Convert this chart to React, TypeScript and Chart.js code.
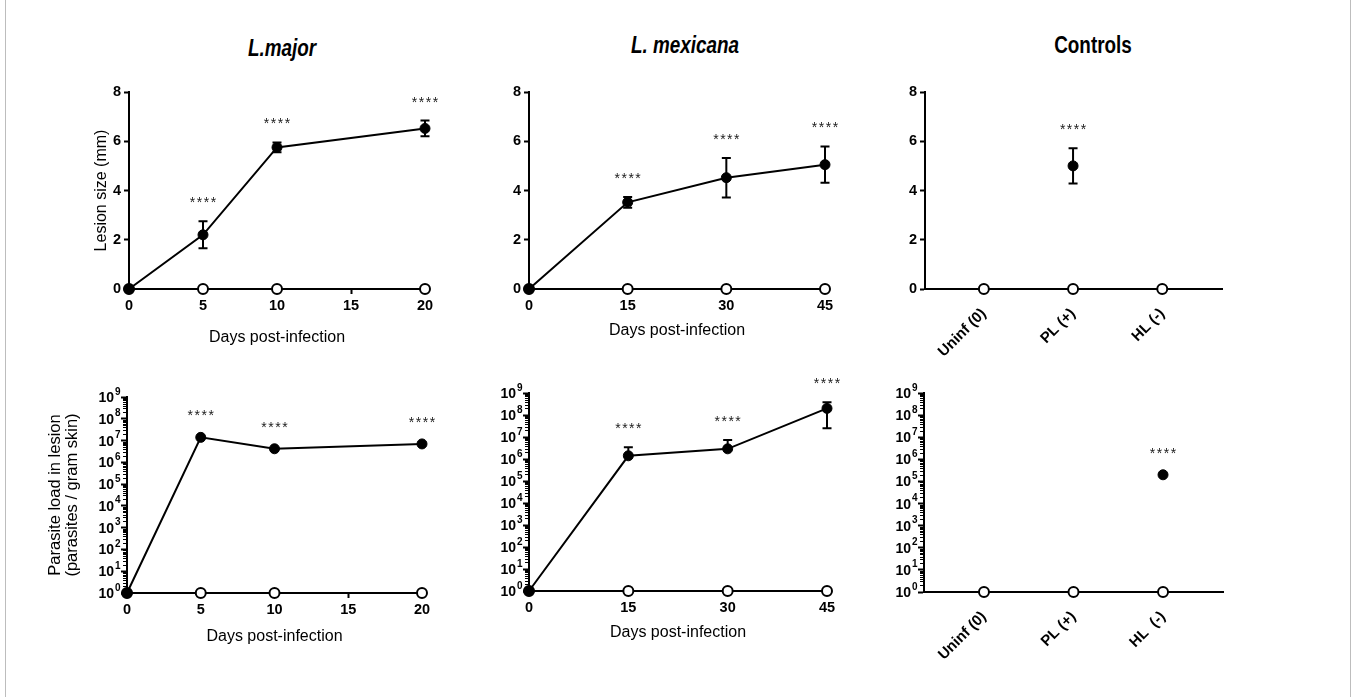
import React, { useEffect, useRef } from 'react';
import { Chart, registerables } from 'chart.js';

Chart.register(...registerables);

const FONT = '"Liberation Sans", Arial, Helvetica, sans-serif';
Chart.defaults.font.family = FONT;
Chart.defaults.color = '#000';

// ---------- data ----------
const MAJOR_DAYS = [0, 5, 10, 20];
const MAJOR_LESION = [0, 2.2, 5.75, 6.52];
const MAJOR_LESION_SEM = [null, 0.55, 0.2, 0.32];
const MAJOR_LESION_CTRL = [0, 0, 0, 0];
const MAJOR_SIG = [false, true, true, true];

const MEX_DAYS = [0, 15, 30, 45];
const MEX_LESION = [0, 3.52, 4.52, 5.05];
const MEX_LESION_SEM = [null, 0.22, 0.8, 0.74];
const MEX_LESION_CTRL = [0, 0, 0, 0];
const MEX_SIG = [false, true, true, true];

const CONTROL_GROUPS = ['Uninf (0)', 'PL (+)', 'HL (-)'];
const CONTROL_GROUPS_LOAD = ['Uninf (0)', 'PL (+)', 'HL  (-)'];
const CONTROL_LESION_OPEN = [0, 0, 0];
const CONTROL_LESION_FILLED = [null, 5.0, null];
const CONTROL_LESION_SEM = [null, 0.72, null];
const CONTROL_LESION_SIG = [false, true, false];

const MAJOR_LOAD = [1, 1.4e7, 4.2e6, 7.0e6];
const MAJOR_LOAD_CTRL = [1, 1, 1, 1];
const MAJOR_LOAD_SEM = [null, null, null, null];

const MEX_LOAD = [1, 1.4e6, 2.9e6, 2.0e8];
const MEX_LOAD_CTRL = [1, 1, 1, 1];
const MEX_LOAD_SEM = [null, 2.0e6, 4.4e6, 1.75e8];

const CONTROL_LOAD_OPEN = [1, 1, 1];
const CONTROL_LOAD_FILLED = [null, null, 2.0e5];
const CONTROL_LOAD_SEM = [null, null, null];
const CONTROL_LOAD_SIG = [false, false, true];

const LESION_TICKS = [0, 2, 4, 6, 8];
const LOG_EXPONENTS = [0, 1, 2, 3, 4, 5, 6, 7, 8, 9];
const LOG_BASE_LABEL = '10';

const PANEL_TITLES = ['L.major', 'L. mexicana', 'Controls'];

// ---------- plugin: error bars + significance stars ----------
const errStarPlugin = {
  id: 'errStars',
  afterDatasetsDraw(chart: any) {
    const ctx = chart.ctx;
    const yScale = chart.scales.y;
    const isLog = yScale.type === 'logarithmic';
    chart.data.datasets.forEach((ds: any, di: number) => {
      const meta = chart.getDatasetMeta(di);
      const sem = ds.sem || [];
      const sig = ds.sig || [];
      meta.data.forEach((pt: any, i: number) => {
        const raw = ds.data[i];
        const v = raw && typeof raw === 'object' ? raw.y : raw;
        if (v == null) return;
        let topPx = pt.y - 3;
        const e = sem[i];
        if (e) {
          const hiPx = yScale.getPixelForValue(v + e);
          const lo = v - e;
          const loPx = !isLog || lo > 0 ? yScale.getPixelForValue(lo) : null;
          ctx.save();
          ctx.strokeStyle = '#000';
          ctx.lineWidth = 2;
          ctx.beginPath();
          ctx.moveTo(pt.x, hiPx);
          ctx.lineTo(pt.x, loPx != null ? loPx : pt.y);
          ctx.moveTo(pt.x - 4.5, hiPx);
          ctx.lineTo(pt.x + 4.5, hiPx);
          if (loPx != null) {
            ctx.moveTo(pt.x - 4.5, loPx);
            ctx.lineTo(pt.x + 4.5, loPx);
          }
          ctx.stroke();
          ctx.restore();
          topPx = Math.min(topPx, hiPx);
        }
        if (sig[i]) {
          ctx.save();
          ctx.font = `14px ${FONT}`;
          (ctx as any).letterSpacing = '1.5px';
          ctx.fillStyle = '#1a1a1a';
          ctx.textAlign = 'center';
          ctx.textBaseline = 'alphabetic';
          ctx.fillText('****', pt.x + 0.75, topPx - 22 + 8);
          ctx.restore();
        }
      });
    });
  },
};

const isPow10 = (v: number) => {
  const e = Math.round(Math.log10(v));
  return Math.abs(Math.pow(10, e) - v) < 1e-6 * v;
};

// ---------- plugin: power-of-ten labels with superscripts + short minor ticks ----------
const logLabelPlugin = {
  id: 'logLabels',
  afterDraw(chart: any) {
    const y = chart.scales.y;
    if (!y || y.type !== 'logarithmic') return;
    const ctx = chart.ctx;
    const axisX = chart.chartArea.left;
    ctx.save();
    ctx.strokeStyle = '#000';
    ctx.lineWidth = 1.2;
    ctx.beginPath();
    y.ticks.forEach((t: any) => {
      if (isPow10(t.value)) return;
      const py = Math.round(y.getPixelForValue(t.value)) + 0.5;
      ctx.moveTo(axisX - 4, py);
      ctx.lineTo(axisX, py);
    });
    ctx.stroke();
    const right = axisX - 6.5;
    ctx.fillStyle = '#000';
    ctx.textBaseline = 'alphabetic';
    ctx.textAlign = 'left';
    LOG_EXPONENTS.forEach((e) => {
      const py = y.getPixelForValue(Math.pow(10, e));
      const sup = String(e);
      ctx.font = `bold 10px ${FONT}`;
      const w2 = ctx.measureText(sup).width;
      ctx.font = `bold 14px ${FONT}`;
      const w1 = ctx.measureText(LOG_BASE_LABEL).width;
      const x0 = right - w2 - 0.8 - w1;
      ctx.fillText(LOG_BASE_LABEL, x0, py + 5);
      ctx.font = `bold 10px ${FONT}`;
      ctx.fillText(sup, right - w2, py - 2.5);
    });
    ctx.restore();
  },
};

// ---------- helpers ----------
const tickFont = { size: 14.5, weight: 'bold' as const };
const axisGrid = {
  display: true,
  drawOnChartArea: false,
  drawTicks: true,
  tickLength: 5,
  tickWidth: 2,
  tickColor: '#000',
};
const axisBorder = { display: true, color: '#000', width: 2 };

function filledSet(points: any[], sem: any[], sig: any[]) {
  return {
    data: points,
    sem,
    sig,
    order: 0,
    borderColor: '#000',
    borderWidth: 2,
    pointRadius: 5,
    pointBackgroundColor: '#000',
    pointBorderColor: '#000',
    pointBorderWidth: 1,
    tension: 0,
    fill: false,
    clip: false,
    spanGaps: false,
  };
}
function openSet(points: any[]) {
  return {
    data: points,
    order: 1,
    borderColor: '#000',
    borderWidth: 2,
    pointRadius: 5,
    pointBackgroundColor: '#fff',
    pointBorderColor: '#000',
    pointBorderWidth: 2,
    tension: 0,
    fill: false,
    clip: false,
  };
}
const xy = (xs: number[], ys: any[]) => ys.map((y, i) => ({ x: xs[i], y }));
const idx = (ys: any[]) => ys.map((y, i) => ({ x: i, y }));

function logY(yWidth: number, title?: any) {
  return {
    type: 'logarithmic',
    min: Math.pow(10, LOG_EXPONENTS[0]),
    max: Math.pow(10, LOG_EXPONENTS[LOG_EXPONENTS.length - 1]),
    afterBuildTicks: (s: any) => {
      const t: any[] = [];
      LOG_EXPONENTS.forEach((e, k) => {
        const base = Math.pow(10, e);
        t.push({ value: base, major: true });
        if (k < LOG_EXPONENTS.length - 1) {
          for (let m = 2; m <= 9; m++) t.push({ value: m * base, major: false });
        }
      });
      s.ticks = t;
    },
    afterFit: (s: any) => {
      s.width = yWidth;
    },
    ticks: {
      display: false,
      autoSkip: false,
      callback: () => '',
    },
    grid: {
      ...axisGrid,
      tickLength: 6,
      tickColor: (c: any) => (c.tick && isPow10(c.tick.value) ? '#000' : 'rgba(0,0,0,0)'),
    },
    border: axisBorder,
    title: title || { display: false },
  };
}

function lesionY(yWidth: number, title?: any) {
  return {
    type: 'linear',
    min: LESION_TICKS[0],
    max: LESION_TICKS[LESION_TICKS.length - 1],
    afterBuildTicks: (s: any) => {
      s.ticks = LESION_TICKS.map((v) => ({ value: v }));
    },
    afterFit: (s: any) => {
      s.width = yWidth;
    },
    ticks: { padding: 3, font: tickFont },
    grid: axisGrid,
    border: axisBorder,
    title: title || { display: false },
  };
}

function daysX(days: number[], step: number, xHeight: number, titlePadBottom: number) {
  return {
    type: 'linear',
    min: days[0],
    max: days[days.length - 1],
    ticks: { stepSize: step, padding: 3, font: tickFont, autoSkip: false },
    afterFit: (s: any) => {
      s.height = xHeight;
    },
    grid: axisGrid,
    border: axisBorder,
    title: {
      display: true,
      text: 'Days post-infection',
      font: { size: 16 },
      color: '#000',
      padding: { top: 0, bottom: titlePadBottom },
    },
  };
}

function groupX(groups: string[], min: number, max: number, xHeight: number) {
  return {
    type: 'linear',
    min,
    max,
    afterBuildTicks: (s: any) => {
      s.ticks = groups.map((_, i) => ({ value: i }));
    },
    afterFit: (s: any) => {
      s.height = xHeight;
    },
    ticks: {
      autoSkip: false,
      minRotation: 45,
      maxRotation: 45,
      padding: 8,
      font: { size: 15, weight: 'bold' as const },
      callback: (v: number) => groups[v],
    },
    grid: { display: false },
    border: axisBorder,
  };
}

function baseOptions(padTop: number, padRight: number, scales: any) {
  return {
    animation: false,
    responsive: false,
    maintainAspectRatio: false,
    layout: { padding: { left: 0, top: padTop, right: padRight, bottom: 0 } },
    plugins: { legend: { display: false }, tooltip: { enabled: false } },
    scales,
  };
}

type PanelSpec = { box: [number, number, number, number]; config: () => any };

const PLUGINS = [errStarPlugin, logLabelPlugin];

const PANELS: PanelSpec[] = [
  {
    box: [30, 70, 430, 290],
    config: () => ({
      type: 'line',
      data: {
        datasets: [
          filledSet(xy(MAJOR_DAYS, MAJOR_LESION), MAJOR_LESION_SEM, MAJOR_SIG),
          openSet(xy(MAJOR_DAYS, MAJOR_LESION_CTRL)),
        ],
      },
      options: baseOptions(22, 35, {
        x: daysX(MAJOR_DAYS, 5, 71, 12.4),
        y: lesionY(99, {
          display: true,
          text: 'Lesion size (mm)',
          font: { size: 16 },
          color: '#000',
          padding: { top: 62.4, bottom: 0 },
        }),
      }),
      plugins: PLUGINS,
    }),
  },
  {
    box: [460, 70, 400, 290],
    config: () => ({
      type: 'line',
      data: {
        datasets: [
          filledSet(xy(MEX_DAYS, MEX_LESION), MEX_LESION_SEM, MEX_SIG),
          openSet(xy(MEX_DAYS, MEX_LESION_CTRL)),
        ],
      },
      options: baseOptions(22, 35, {
        x: daysX(MEX_DAYS, 15, 71, 19.4),
        y: lesionY(69),
      }),
      plugins: PLUGINS,
    }),
  },
  {
    box: [860, 70, 400, 300],
    config: () => ({
      type: 'line',
      data: {
        datasets: [
          { ...filledSet(idx(CONTROL_LESION_FILLED), CONTROL_LESION_SEM, CONTROL_LESION_SIG), showLine: false },
          openSet(idx(CONTROL_LESION_OPEN)),
        ],
      },
      options: baseOptions(22, 38, {
        x: groupX(CONTROL_GROUPS, -0.66, 2.67, 81),
        y: lesionY(65),
      }),
      plugins: PLUGINS,
    }),
  },
  {
    box: [20, 370, 440, 290],
    config: () => ({
      type: 'line',
      data: {
        datasets: [
          filledSet(xy(MAJOR_DAYS, MAJOR_LOAD), MAJOR_LOAD_SEM, MAJOR_SIG),
          openSet(xy(MAJOR_DAYS, MAJOR_LOAD_CTRL)),
        ],
      },
      options: baseOptions(27, 38, {
        x: daysX(MAJOR_DAYS, 5, 67, 13.4),
        y: logY(107, {
          display: true,
          text: ['Parasite load in lesion', '(parasites / gram skin)'],
          font: { size: 16.5, lineHeight: 1.03 },
          color: '#000',
          padding: { top: 26.5, bottom: 0 },
        }),
      }),
      plugins: PLUGINS,
    }),
  },
  {
    box: [460, 360, 400, 300],
    config: () => ({
      type: 'line',
      data: {
        datasets: [
          filledSet(xy(MEX_DAYS, MEX_LOAD), MEX_LOAD_SEM, MEX_SIG),
          openSet(xy(MEX_DAYS, MEX_LOAD_CTRL)),
        ],
      },
      options: baseOptions(33, 33, {
        x: daysX(MEX_DAYS, 15, 69, 17.7),
        y: logY(69),
      }),
      plugins: PLUGINS,
    }),
  },
  {
    box: [860, 370, 400, 310],
    config: () => ({
      type: 'line',
      data: {
        datasets: [
          { ...filledSet(idx(CONTROL_LOAD_FILLED), CONTROL_LOAD_SEM, CONTROL_LOAD_SIG), showLine: false },
          openSet(idx(CONTROL_LOAD_OPEN)),
        ],
      },
      options: baseOptions(23, 37, {
        x: groupX(CONTROL_GROUPS_LOAD, -0.67, 2.67, 88),
        y: logY(64),
      }),
      plugins: PLUGINS,
    }),
  },
];

function Panel({ spec }: { spec: PanelSpec }) {
  const ref = useRef<HTMLCanvasElement | null>(null);
  useEffect(() => {
    if (!ref.current) return;
    const chart = new Chart(ref.current, spec.config());
    return () => chart.destroy();
  }, [spec]);
  const [l, t, w, h] = spec.box;
  return (
    <canvas
      ref={ref}
      width={w}
      height={h}
      style={{ position: 'absolute', left: l, top: t, width: w, height: h, display: 'block' }}
    />
  );
}

function hasFont(name: string) {
  try {
    const c = document.createElement('canvas').getContext('2d');
    if (!c) return false;
    c.font = '20px monospace';
    const a = c.measureText('Controls mexicana').width;
    c.font = `20px "${name}", monospace`;
    const b = c.measureText('Controls mexicana').width;
    return Math.abs(a - b) > 0.5;
  } catch (e) {
    return false;
  }
}

const TITLE_POS: [number, number, boolean][] = [
  [282, 48, true],
  [685, 45, true],
  [1093, 45, false],
];

export default function App() {
  const narrow = hasFont('Liberation Sans Narrow');
  const titleFamily = narrow ? '"Liberation Sans Narrow"' : FONT;
  const squeeze = narrow ? 1 : 0.82;
  return (
    <div style={{ position: 'absolute', left: 0, top: 0, width: 1355, height: 697, background: '#fff', overflow: 'hidden' }}>
      <div style={{ position: 'absolute', left: 5, top: 0, width: 1, height: 697, background: '#bdbdbd' }} />
      <div style={{ position: 'absolute', left: 1350, top: 0, width: 1, height: 697, background: '#bdbdbd' }} />
      {PANEL_TITLES.map((t, i) => (
        <div
          key={t}
          style={{
            position: 'absolute',
            left: TITLE_POS[i][0],
            top: TITLE_POS[i][1],
            transform: `translate(-50%, -50%) scaleX(${squeeze})`,
            font: `${TITLE_POS[i][2] ? 'italic ' : ''}bold 23px ${titleFamily}`,
            whiteSpace: 'nowrap',
            color: '#000',
          }}
        >
          {t}
        </div>
      ))}
      {PANELS.map((p, i) => (
        <Panel key={i} spec={p} />
      ))}
    </div>
  );
}
